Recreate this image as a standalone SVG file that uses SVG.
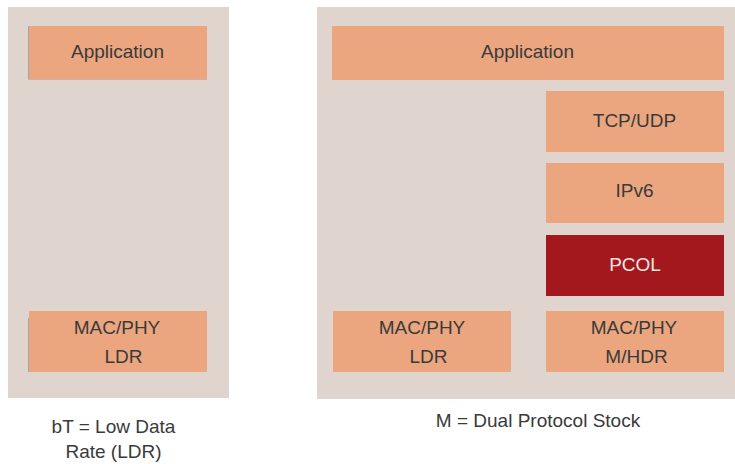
<svg xmlns="http://www.w3.org/2000/svg" width="735" height="464" viewBox="0 0 735 464">
<style>
.panel{fill:#e0d5ce}
.box{fill:#eba67f}
.red{fill:#a3181c}
text{font-family:"Liberation Sans",Arial,sans-serif;font-size:19px;fill:#3a3a3a;text-anchor:middle}
.w{fill:#f3e4e4}
</style>
<rect width="735" height="464" fill="#ffffff"/>
<g id="panel-left">
<rect class="panel" x="8" y="7" width="221" height="391"/>
</g>
<g id="panel-right">
<rect class="panel" x="317" y="7" width="418" height="392"/>
</g>
<g id="left-application">
<rect class="box" x="28" y="26" width="179" height="54"/>
<rect x="28" y="26" width="1" height="54" fill="#a8a4ac"/>
<rect x="28" y="79" width="179" height="1" fill="#c9b3a6"/>
<text x="117.5" y="58">Application</text>
</g>
<g id="left-macphy">
<rect class="box" x="29" y="311" width="178" height="61"/>
<rect x="28" y="318" width="1" height="54" fill="#a8a4ac"/>
<text x="117" y="334">MAC/PHY</text>
<text x="123.5" y="363">LDR</text>
</g>
<g id="right-application">
<rect class="box" x="332" y="26" width="392" height="54"/>
<text x="527.5" y="58">Application</text>
</g>
<g id="tcp-udp">
<rect class="box" x="546" y="91" width="178" height="61"/>
<text x="634.5" y="127">TCP/UDP</text>
</g>
<g id="ipv6">
<rect class="box" x="546" y="163" width="178" height="60"/>
<text x="634.5" y="197">IPv6</text>
</g>
<g id="pcol">
<rect class="red" x="546" y="235" width="178" height="61"/>
<text class="w" x="635" y="271">PCOL</text>
</g>
<g id="right-macphy-ldr">
<rect class="box" x="333" y="311" width="178" height="61"/>
<text x="422" y="334">MAC/PHY</text>
<text x="428.5" y="363">LDR</text>
</g>
<g id="right-macphy-mhdr">
<rect class="box" x="546" y="311" width="178" height="61"/>
<text x="634" y="334">MAC/PHY</text>
<text x="636.5" y="363">M/HDR</text>
</g>
<g id="connectors"></g>
<g id="captions">
<text x="113.5" y="433">bT = Low Data</text>
<text x="113.5" y="458">Rate (LDR)</text>
<text x="538" y="427">M = Dual Protocol Stock</text>
</g>
</svg>
